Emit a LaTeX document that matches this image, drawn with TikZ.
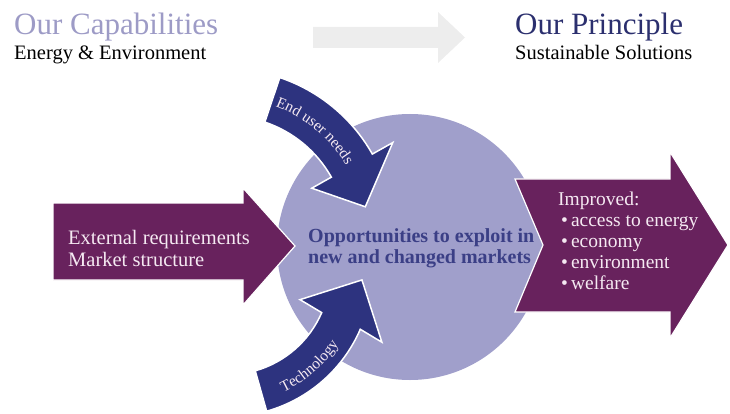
\documentclass[tikz,border=0pt]{standalone}
\usepackage{fontspec}
\setmainfont{Liberation Serif}
\usetikzlibrary{decorations.text}
\definecolor{plum}{RGB}{104,34,93}
\definecolor{navy}{RGB}{45,51,127}
\definecolor{lavender}{RGB}{160,159,203}
\definecolor{lavtitle}{RGB}{157,155,198}
\definecolor{deepnavy}{RGB}{43,47,110}
\definecolor{circtext}{RGB}{59,63,134}
\definecolor{paletext}{RGB}{245,233,242}
\definecolor{greyarrow}{RGB}{237,237,237}
\begin{document}
\begin{tikzpicture}[x=1pt,y=1pt]
    \tikzstyle{every node}+=[inner sep=0pt, anchor=base west]
    \tikzstyle{plumarrow}=[fill=plum, draw=white, line width=1.2pt, line join=miter]
    \tikzstyle{navyarrow}=[fill=navy, draw=white, line width=1.5pt, line join=miter]
    \tikzstyle{bigtitle}=[font=\fontsize{31}{31}\selectfont]
    \tikzstyle{subtitle}=[font=\fontsize{20.5}{20.5}\selectfont]
    \tikzstyle{arrowtext}=[font=\fontsize{20.5}{20.5}\selectfont, text=paletext]
    \tikzstyle{listtext}=[font=\fontsize{19.5}{19.5}\selectfont, text=paletext]
    \useasboundingbox (0,0) rectangle (730,-414);
    % headings
    \node [bigtitle, text=lavtitle] (capab) at (14,-35) {Our Capabilities};
    \node [subtitle] (energy) at (14,-60) {Energy \& Environment};
    \node [bigtitle, text=deepnavy] (princ) at (515,-35) {Our Principle};
    \node [subtitle] (sustain) at (515,-60) {Sustainable Solutions};
    \fill [greyarrow] (313,-27) -- (438,-27) -- (438,-12) -- (465,-37.5) -- (438,-63) -- (438,-48) -- (313,-48) -- cycle;
    % circle
    \fill [lavender] (410,-247) circle (133);
    % left and right arrows
    \draw [plumarrow] (53,-203) -- (243,-203) -- (243,-188) -- (295,-246) -- (243,-305) -- (243,-280) -- (53,-280) -- cycle;
    \draw [plumarrow] (515,-179) -- (670,-179) -- (670,-152) -- (728,-245) -- (670,-338) -- (670,-312) -- (515,-312) -- (543,-245) -- cycle;
    % end user needs
    \begin{scope}[shift={(226.4,-236.3)}]
    \draw [navyarrow] (71.4:167.5) arc (71.4:29.4:167.5) -- (29.4:191) -- (12:142) -- (29.4:98) -- (29.4:120.5) arc (29.4:71.4:120.5) -- cycle;
    \path [decorate, decoration={text along path, text align=center,
      text={|\fontsize{15.5}{15.5}\selectfont\color{paletext}|End user needs}}] (70:139) arc (70:30:139);
    \end{scope}
    % technology
    \begin{scope}[shift={(227.2,-271.7)}]
    \draw [navyarrow] (-74.2:103) arc (-74.2:-23.4:103) -- (-21:78) -- (-3.5:135) -- (-24.5:170) -- (-23.4:145) arc (-23.4:-74.2:145) -- cycle;
    \path [decorate, decoration={text along path, text align=center,
      text={|\fontsize{15.5}{15.5}\selectfont\color{paletext}|Technology}}] (-72:133) arc (-72:-26:133);
    \end{scope}
    % texts
    \node [arrowtext] (extreq) at (68,-244) {External requirements};
    \node [arrowtext] (market) at (68,-266) {Market structure};
    \node [font=\fontsize{20}{20}\selectfont\bfseries, text=circtext] (opport) at (308,-242) {Opportunities to exploit in};
    \node [font=\fontsize{20}{20}\selectfont\bfseries, text=circtext] (newmark) at (308,-263) {new and changed markets};
    \node [listtext] (improved) at (558,-205) {Improved:};
    \node [listtext] (access) at (561,-226.5) {\textbullet\hspace{3pt}access to energy};
    \node [listtext] (economy) at (561,-247.5) {\textbullet\hspace{3pt}economy};
    \node [listtext] (environ) at (561,-268.5) {\textbullet\hspace{3pt}environment};
    \node [listtext] (welfare) at (561,-289.5) {\textbullet\hspace{3pt}welfare};
\end{tikzpicture}
\end{document}
